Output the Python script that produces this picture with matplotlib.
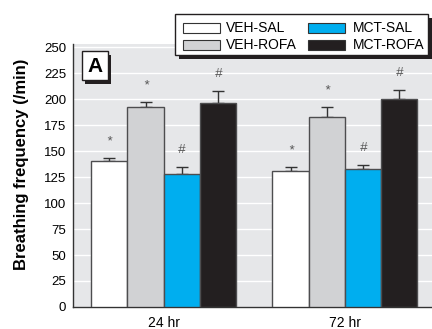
import matplotlib
matplotlib.use("Agg")
import matplotlib.pyplot as plt
import numpy as np
from matplotlib.patches import Rectangle

# Data
timepoints = ["24 hr", "72 hr"]
groups = ["VEH-SAL", "VEH-ROFA", "MCT-SAL", "MCT-ROFA"]
means = {
    "VEH-SAL": [140, 131],
    "VEH-ROFA": [192, 183],
    "MCT-SAL": [128, 133],
    "MCT-ROFA": [196, 200],
}
sems = {
    "VEH-SAL": [3, 4],
    "VEH-ROFA": [5, 9],
    "MCT-SAL": [7, 4],
    "MCT-ROFA": [12, 9],
}
marks = {
    "VEH-SAL": ["*", "*"],
    "VEH-ROFA": ["*", "*"],
    "MCT-SAL": ["#", "#"],
    "MCT-ROFA": ["#", "#"],
}
yticks = [0, 25, 50, 75, 100, 125, 150, 175, 200, 225, 250]

colors = {
    "VEH-SAL": "#ffffff",
    "VEH-ROFA": "#d1d2d4",
    "MCT-SAL": "#00aeef",
    "MCT-ROFA": "#231f20",
}
ink = "#231f20"

plt.rcParams["font.family"] = ["Liberation Sans", "DejaVu Sans"]

fig = plt.figure(figsize=(4.32, 3.29), dpi=100)
ax = fig.add_axes([0.169, 0.067, 0.831, 0.799])
ax.set_facecolor("#e6e7e9")

x = np.arange(len(timepoints))
width = 0.2
for i, g in enumerate(groups):
    pos = x + (i - 1.5) * width
    ax.bar(pos, means[g], width, color=colors[g], edgecolor="#4d4d4f",
           linewidth=1.0, zorder=3)
    ax.errorbar(pos, means[g], yerr=[np.zeros(len(x)), sems[g]], fmt="none",
                ecolor="#333333", elinewidth=1.0, capsize=4, capthick=1.0,
                zorder=2)
    for p, m, s, t in zip(pos, means[g], sems[g], marks[g]):
        ax.text(p, m + s + 16, t, ha="center", va="center", fontsize=9.5,
                color="#555555", style="italic", zorder=4)

ax.set_xlim(-0.5, 1.48)
ax.set_ylim(0, 253)
ax.set_yticks(yticks)
ax.set_xticks(x)
ax.set_xticklabels(timepoints)
ax.tick_params(axis="y", length=0, labelsize=9.5, pad=5)
ax.tick_params(axis="x", length=0, labelsize=10, pad=6.5)
ax.grid(axis="y", color="white", linewidth=1.0, zorder=1)
ax.set_axisbelow(True)
for side in ["top", "right"]:
    ax.spines[side].set_visible(False)
for side in ["left", "bottom"]:
    ax.spines[side].set_color("#333333")
    ax.spines[side].set_linewidth(1.0)

fig.text(22 / 432, 1 - 164 / 329, "Breathing frequency (/min)", rotation=90,
         ha="center", va="center", fontsize=12, fontweight="bold")

W, H = 432.0, 329.0


def fig_rect(x0, y0, x1, y1, **kw):
    """Rectangle given in pixel coordinates from the top-left corner."""
    r = Rectangle((x0 / W, 1 - y1 / H), (x1 - x0) / W, (y1 - y0) / H,
                  transform=fig.transFigure, **kw)
    fig.patches.append(r)
    return r


# Panel letter with drop shadow
fig_rect(85, 55, 111, 84, facecolor=ink, edgecolor="none", zorder=5)
fig_rect(82, 51, 108, 80, facecolor="white", edgecolor=ink, linewidth=1.0, zorder=6)
fig.text(95 / W, 1 - 66 / H, "A", ha="center", va="center", fontsize=15,
         fontweight="bold", zorder=7)

# Legend with drop shadow
fig_rect(179, 18, 433, 59, facecolor=ink, edgecolor="none", zorder=5)
fig_rect(175, 14, 428, 55, facecolor="white", edgecolor=ink, linewidth=1.0, zorder=6)
legend_cols = [(183, 220, 226), (308, 345, 353)]
legend_rows = [28, 45]
for k, g in enumerate(groups):
    hx0, hx1, tx = legend_cols[k // 2]
    cy = legend_rows[k % 2]
    fig_rect(hx0, cy - 5, hx1, cy + 5, facecolor=colors[g], edgecolor="#333333",
             linewidth=0.8, zorder=7)
    fig.text(tx / W, 1 - cy / H, g, ha="left", va="center", fontsize=10, zorder=7)

fig.savefig("out.png", dpi=100)
